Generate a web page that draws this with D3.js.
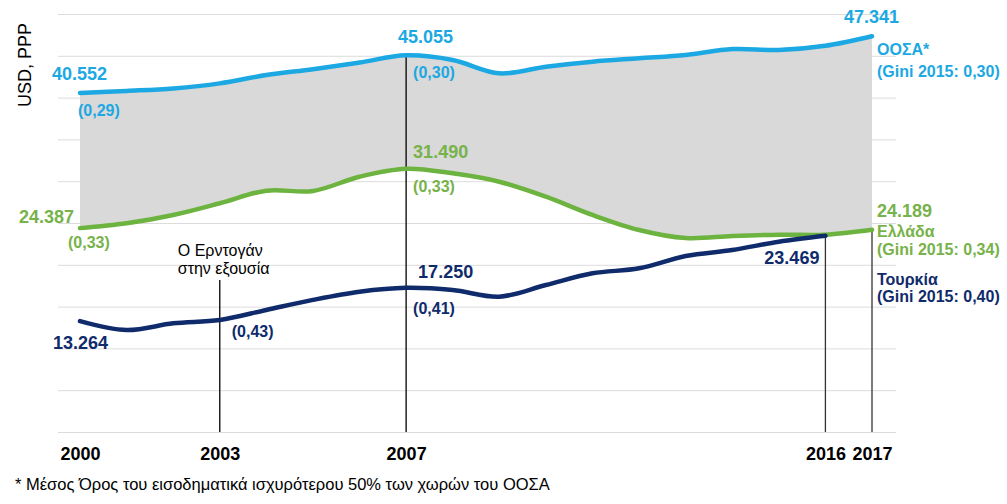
<!DOCTYPE html>
<html>
<head>
<meta charset="utf-8">
<script src="https://cdn.jsdelivr.net/npm/d3@7"></script>
<style>
  html, body { margin: 0; padding: 0; background: #fff; }
  svg { display: block; font-family: "Liberation Sans", Arial, sans-serif; }
</style>
</head>
<body>
<svg id="chart" width="1007" height="504"></svg>
<script>
const years = [2000,2001,2002,2003,2004,2005,2006,2007,2008,2009,2010,2011,2012,2013,2014,2015,2016,2017];
const oecd = [40552,40800,41100,41700,42700,43400,44200,45055,44500,42900,43700,44300,44700,45100,45800,45700,46200,47341];
const greece = [24387,24960,25960,27360,28870,28830,30540,31490,30940,29940,28150,25960,24160,23200,23440,23600,23600,24189];
const turkeyYears = [2000,2001,2002,2003,2004,2005,2006,2007,2008,2009,2010,2011,2012,2013,2014,2015,2016];
const turkey = [13264,12200,13000,13400,14600,15800,16780,17250,16990,16190,17580,18980,19580,21050,21770,22760,23469];
const tickYears = [2000,2003,2007,2016,2017];
const gridValues = [0,5000,10000,15000,20000,25000,30000,35000,40000,45000,50000];

const C_OECD = "#1CA8E2", C_GR = "#6DB33F", C_GR_T = "#77B24A", C_TR = "#0F2B6B";

const svg = d3.select("#chart");
const x = d3.scaleLinear().domain([2000, 2017]).range([80, 872]);
const y = d3.scaleLinear().domain([0, 50000]).range([432, 14]);
const curve = d3.curveCatmullRom.alpha(0.5);

// gridlines
const grid = svg.append("g").attr("transform", "translate(58,0)")
  .call(d3.axisRight(y).tickValues(gridValues).tickSize(838).tickFormat(""));
grid.select(".domain").remove();
grid.selectAll("line").attr("stroke", "#DCDCDC").attr("stroke-width", 1);

// band between OECD and Greece
const band = years.map((yr, i) => ({yr, top: oecd[i], bot: greece[i]}));
svg.append("path").datum(band)
  .attr("fill", "#D9D9D9")
  .attr("d", d3.area().x(d => x(d.yr)).y0(d => y(d.bot)).y1(d => y(d.top)).curve(curve));

// vertical marker lines
const vlines = [
  {yr: 2003, top: 280, col: "#000"},
  {yr: 2007, top: y(oecd[7]), col: "#000"},
  {yr: 2016, top: y(turkey[16]), col: "#333"},
  {yr: 2017, top: y(greece[17]), col: "#333"}
];
svg.selectAll(".vl").data(vlines).enter().append("line")
  .attr("x1", d => x(d.yr)).attr("x2", d => x(d.yr))
  .attr("y1", d => d.top).attr("y2", y(0))
  .attr("stroke", d => d.col).attr("stroke-width", 1.3);

// lines
const line = d3.line().x(d => x(d[0])).y(d => y(d[1])).curve(curve);
function drawLine(xs, vs, col) {
  svg.append("path").datum(xs.map((yr, i) => [yr, vs[i]]))
    .attr("fill", "none").attr("stroke", col).attr("stroke-width", 4.5)
    .attr("stroke-linecap", "round").attr("d", line);
}
drawLine(years, greece, C_GR);
drawLine(turkeyYears, turkey, C_TR);
drawLine(years, oecd, C_OECD);

// x axis
const xa = svg.append("g").attr("transform", `translate(0,${y(0)})`)
  .call(d3.axisBottom(x).tickValues(tickYears).tickSize(0).tickFormat(d3.format("d")));
xa.select(".domain").remove();
xa.selectAll("text").attr("y", 28).attr("dy", 0)
  .attr("font-size", 18).attr("font-weight", "bold").attr("fill", "#000")
  .attr("font-family", "Liberation Sans, Arial, sans-serif");

// texts
function t(xp, yp, s, opts) {
  opts = opts || {};
  svg.append("text").attr("x", xp).attr("y", yp).text(s)
    .attr("fill", opts.fill || "#000")
    .attr("font-size", opts.size || 16)
    .attr("font-weight", opts.bold === false ? "normal" : "bold")
    .attr("text-anchor", opts.anchor || "start");
}
const fmt = v => d3.format(",")(v).replace(/,/g, ".");

t(x(2000) - 28, y(oecd[0]) - 13, fmt(oecd[0]), {fill: C_OECD, size: 18});
t(x(2000) - 2, y(oecd[0]) + 23, "(0,29)", {fill: C_OECD});
t(x(2007) + 19.5, y(oecd[7]) - 12, fmt(oecd[7]), {fill: C_OECD, size: 18, anchor: "middle"});
t(x(2007) + 7, y(oecd[7]) + 23, "(0,30)", {fill: C_OECD});
t(x(2017) + 27, y(oecd[17]) - 13, fmt(oecd[17]), {fill: C_OECD, size: 18, anchor: "end"});
t(x(2017) + 5, 55, "ΟΟΣΑ*", {fill: C_OECD});
t(x(2017) + 5, 77, "(Gini 2015: 0,30)", {fill: C_OECD});

t(x(2000) - 6, y(greece[0]) - 5, fmt(greece[0]), {fill: C_GR_T, size: 18, anchor: "end"});
t(x(2000) - 12, y(greece[0]) + 20, "(0,33)", {fill: C_GR_T});
t(x(2007) + 7, y(greece[7]) - 11, fmt(greece[7]), {fill: C_GR_T, size: 18});
t(x(2007) + 7, y(greece[7]) + 23, "(0,33)", {fill: C_GR_T});
t(x(2017) + 5, y(greece[17]) - 13, fmt(greece[17]), {fill: C_GR_T, size: 18});
t(x(2017) + 5, 237, "Ελλάδα", {fill: C_GR_T});
t(x(2017) + 5, 255, "(Gini 2015: 0,34)", {fill: C_GR_T});

t(x(2000) - 27, y(turkey[0]) + 28, fmt(turkey[0]), {fill: C_TR, size: 18});
t(x(2003) + 12, y(turkey[3]) + 17, "(0,43)", {fill: C_TR});
t(x(2007) + 12, y(turkey[7]) - 10, fmt(turkey[7]), {fill: C_TR, size: 18});
t(x(2007) + 7, y(turkey[7]) + 26, "(0,41)", {fill: C_TR});
t(x(2016) - 6, y(turkey[16]) + 28, fmt(turkey[16]), {fill: C_TR, size: 18, anchor: "end"});
t(x(2017) + 5, 285, "Τουρκία", {fill: C_TR});
t(x(2017) + 5, 302, "(Gini 2015: 0,40)", {fill: C_TR});

t(x(2003) - 42, 256, "Ο Ερντογάν", {bold: false, size: 16});
t(x(2003) - 42, 274, "στην εξουσία", {bold: false, size: 16});

svg.append("text").attr("transform", "translate(31,65) rotate(-90)")
  .attr("text-anchor", "middle").attr("font-size", 18).attr("fill", "#000")
  .text("USD, PPP");

t(15, 490, "* Μέσος Όρος του εισοδηματικά ισχυρότερου 50% των χωρών του ΟΟΣΑ", {bold: false, size: 16.5});
</script>
</body>
</html>
